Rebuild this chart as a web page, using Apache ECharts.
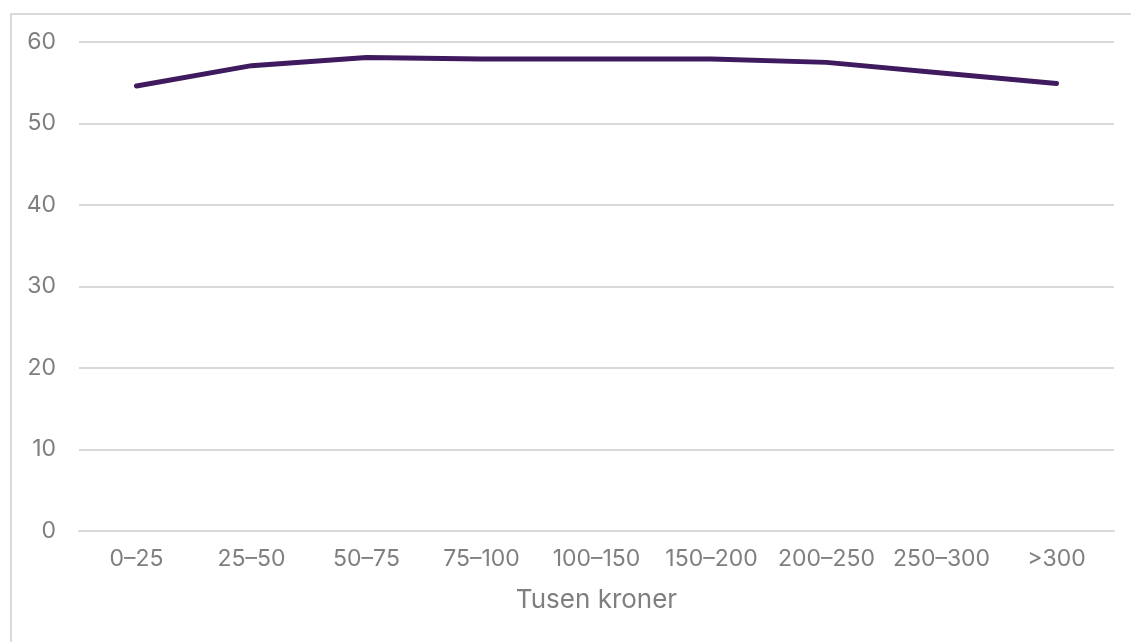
<!DOCTYPE html>
<html>
<head>
<meta charset="utf-8">
<script src="https://cdn.jsdelivr.net/npm/echarts@6/dist/echarts.min.js"></script>
<style>
  html, body { margin: 0; padding: 0; background: #fff; overflow: hidden; }
  #frame { position: absolute; left: 10px; top: 13px; width: 1140px; height: 660px; border: 2px solid #dadada; box-sizing: border-box; }
  #main { position: absolute; left: 0; top: 0; width: 1131px; height: 642px; }
</style>
</head>
<body>
<div id="frame"></div>
<div id="main"></div>
<script>
var categories = ['0–25', '25–50', '50–75', '75–100', '100–150', '150–200', '200–250', '250–300', '>300'];
var values = [54.6, 57.1, 58.1, 57.9, 57.9, 57.9, 57.5, 56.2, 54.9];
var yTicks = [0, 10, 20, 30, 40, 50, 60];

var chart = echarts.init(document.getElementById('main'), null, { renderer: 'canvas' });

var option = {
  backgroundColor: 'transparent',
  animation: false,
  textStyle: { fontFamily: 'Inter' },
  grid: { left: 79, right: 17, top: 42, bottom: 111 },
  xAxis: {
    type: 'category',
    data: categories,
    boundaryGap: true,
    name: 'Tusen kroner',
    nameLocation: 'middle',
    nameGap: 56,
    nameTextStyle: { color: '#7f7f7f', fontSize: 26 },
    axisLine: { lineStyle: { color: '#d9d9d9', width: 2 } },
    axisTick: { show: false },
    axisLabel: { color: '#7f7f7f', fontSize: 23, margin: 17, interval: 0 }
  },
  yAxis: {
    type: 'value',
    min: yTicks[0],
    max: yTicks[yTicks.length - 1],
    interval: 10,
    axisLine: { show: false },
    axisTick: { show: false },
    axisLabel: { color: '#7f7f7f', fontSize: 23, margin: 23 },
    splitLine: { lineStyle: { color: '#d9d9d9', width: 2 } }
  },
  series: [{
    type: 'line',
    data: values,
    symbol: 'none',
    lineStyle: { color: '#3f1a5e', width: 5, cap: 'round', join: 'round' }
  }]
};

chart.setOption(option);
</script>
</body>
</html>
